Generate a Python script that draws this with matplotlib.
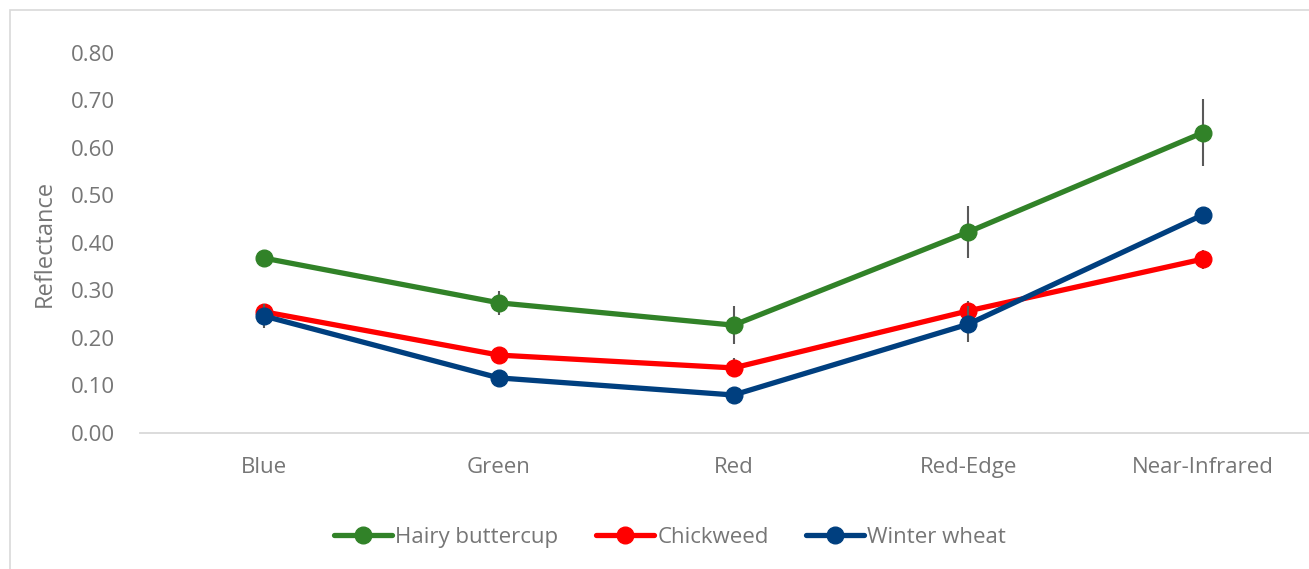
import numpy as np
import matplotlib.pyplot as plt
from matplotlib.patches import Rectangle

bands = ['Blue', 'Green', 'Red', 'Red-Edge', 'Near-Infrared']

buttercup = [0.368, 0.274, 0.227, 0.423, 0.632]
buttercup_err = [0.005, 0.025, 0.040, 0.055, 0.070]
chickweed = [0.255, 0.164, 0.137, 0.257, 0.366]
chickweed_err = [0.012, 0.008, 0.020, 0.020, 0.020]
wheat = [0.246, 0.116, 0.080, 0.229, 0.459]
wheat_err = [0.025, 0.005, 0.006, 0.038, 0.008]

series = [
    ('Hairy buttercup', buttercup, buttercup_err, '#318228'),
    ('Chickweed', chickweed, chickweed_err, '#ff0000'),
    ('Winter wheat', wheat, wheat_err, '#003f7f'),
]

plt.rcParams['font.family'] = ['Open Sans', 'DejaVu Sans']
grey = '#767676'

fig = plt.figure(figsize=(13.09, 5.69), dpi=100)
# category spacing ~234 px, axis line starts near x=140
ax = fig.add_axes([140 / 1309, 0.239, 1180 / 1309, 0.668])

x = np.arange(len(bands))
for i, (name, vals, err, col) in enumerate(series):
    ax.errorbar(x, vals, yerr=err, fmt='none', ecolor='#595959', elinewidth=1.5,
                capsize=0, zorder=2 + i)
    ax.plot(x, vals, color=col, lw=3.8, marker='o', markersize=12,
            label=name, zorder=3 + i, solid_capstyle='round')

ax.set_xlim(-0.53, 4.5)
ax.set_ylim(0, 0.8)
ax.set_yticks(np.arange(0, 0.81, 0.1))
ax.set_yticklabels(['%.2f' % v for v in np.arange(0, 0.81, 0.1)])
ax.set_xticks(x)
ax.set_xticklabels(bands)
ax.tick_params(axis='both', length=0, labelsize=16, labelcolor=grey)
ax.tick_params(axis='y', pad=18)
ax.tick_params(axis='x', pad=17)
for s in ['top', 'right', 'left']:
    ax.spines[s].set_visible(False)
ax.spines['bottom'].set_color('#d9d9d9')
ax.spines['bottom'].set_linewidth(1.3)
ax.set_ylabel('Reflectance', fontsize=17, color=grey, labelpad=10)

leg = fig.legend(loc='center', bbox_to_anchor=(0.512, 0.056), ncol=3, frameon=False,
                 fontsize=16, handlelength=2.6, handletextpad=0.15, columnspacing=1.7)
for t in leg.get_texts():
    t.set_color(grey)

fig.patches.append(Rectangle((10 / 1309, -0.1), 1.1, 1 - 10 / 569 + 0.1,
                             transform=fig.transFigure, fill=False,
                             edgecolor='#d9d9d9', lw=1.2))

fig.savefig('out.png', dpi=100)
